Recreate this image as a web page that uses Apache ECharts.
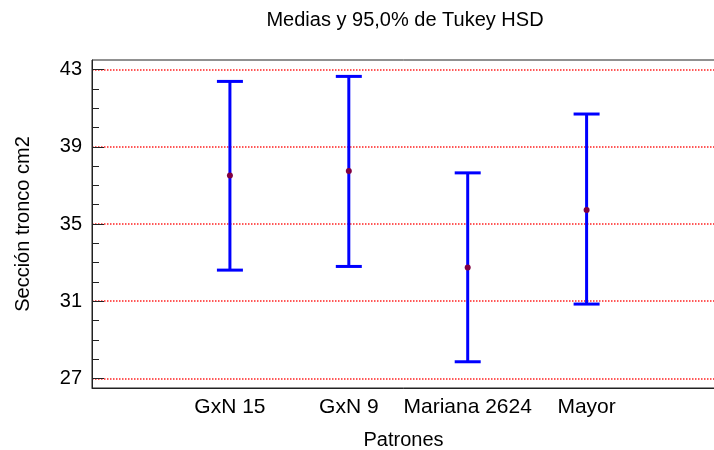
<!DOCTYPE html>
<html>
<head>
<meta charset="utf-8">
<script src="https://cdn.jsdelivr.net/npm/echarts@6/dist/echarts.min.js"></script>
<style>
html,body{margin:0;padding:0;background:#fff;}
#chart{width:714px;height:450px;}
</style>
</head>
<body>
<div id="chart"></div>
<script>
var categories = ['GxN 15', 'GxN 9', 'Mariana 2624', 'Mayor'];
var lowerValues = [32.61, 32.80, 27.86, 30.85];
var meanValues  = [37.51, 37.75, 32.75, 35.73];
var upperValues = [42.39, 42.65, 37.65, 40.70];
var yMajorTicks = [27, 31, 35, 39, 43];
var yMinorTicks = [28, 29, 30, 32, 33, 34, 36, 37, 38, 40, 41, 42];
var categoryPositions = [1, 2, 3, 4];

var FONT = 'Liberation Sans, Arial, sans-serif';
var chart = echarts.init(document.getElementById('chart'), null, {renderer: 'canvas'});

var seriesData = categories.map(function (c, i) {
  return [categoryPositions[i], lowerValues[i], meanValues[i], upperValues[i]];
});

function renderItem(params, api) {
  var x = api.value(0);
  var lo = api.coord([x, api.value(1)]);
  var mid = api.coord([x, api.value(2)]);
  var hi = api.coord([x, api.value(3)]);
  var capHalf = 13;
  var lineStyle = {stroke: '#0000ff', lineWidth: 3};
  return {
    type: 'group',
    children: [
      {type: 'line', shape: {x1: lo[0], y1: lo[1], x2: hi[0], y2: hi[1]}, style: lineStyle},
      {type: 'line', shape: {x1: hi[0] - capHalf, y1: hi[1], x2: hi[0] + capHalf, y2: hi[1]}, style: lineStyle},
      {type: 'line', shape: {x1: lo[0] - capHalf, y1: lo[1], x2: lo[0] + capHalf, y2: lo[1]}, style: lineStyle},
      {type: 'circle', shape: {cx: mid[0], cy: mid[1], r: 3}, style: {fill: '#800040'}}
    ]
  };
}

var option = {
  backgroundColor: '#ffffff',
  animation: false,
  title: {
    text: 'Medias y 95,0% de Tukey HSD',
    left: 400,
    textAlign: 'center',
    top: 5,
    textStyle: {fontFamily: FONT, fontSize: 20, fontWeight: 'normal', color: '#000'}
  },
  grid: {
    left: 92, right: -1, top: 60, height: 328,
    outerBoundsMode: 'none',
    containLabel: false,
    show: true, borderColor: '#222', borderWidth: 1, backgroundColor: 'transparent'
  },
  xAxis: {
    type: 'value',
    min: -0.16, max: 5.08,
    name: 'Patrones',
    nameLocation: 'middle',
    nameGap: 42,
    nameTextStyle: {fontFamily: FONT, fontSize: 20, color: '#000'},
    axisLine: {show: true, onZero: false, lineStyle: {color: '#222', width: 1}},
    axisTick: {show: false},
    splitLine: {show: false},
    axisLabel: {
      customValues: categoryPositions,
      margin: 9,
      fontFamily: FONT, fontSize: 21, color: '#000',
      formatter: function (v) { return categories[Math.round(v) - 1] || ''; }
    }
  },
  yAxis: [
    {
      type: 'value',
      min: 26.5, max: 43.5,
      position: 'left',
      name: 'Sección tronco cm2',
      nameLocation: 'middle',
      nameGap: 59,
      nameTextStyle: {fontFamily: FONT, fontSize: 20, color: '#000'},
      axisLine: {show: true, onZero: false, lineStyle: {color: '#222', width: 1}},
      axisTick: {show: true, inside: true, length: 12, customValues: yMajorTicks, lineStyle: {color: '#222'}},
      axisLabel: {customValues: yMajorTicks, margin: 10, fontFamily: FONT, fontSize: 20, color: '#000'},
      splitLine: {show: true, lineStyle: {color: '#ff2020', type: 'dotted', width: 1.5}}
    },
    {
      type: 'value',
      min: 26.5, max: 43.5,
      position: 'left',
      axisLine: {show: false, onZero: false},
      axisTick: {show: true, inside: true, length: 7, customValues: yMinorTicks, lineStyle: {color: '#222'}},
      axisLabel: {show: false},
      splitLine: {show: false}
    }
  ],
  series: [{
    type: 'custom',
    renderItem: renderItem,
    data: seriesData,
    encode: {x: 0, y: [1, 2, 3]},
    z: 10
  }]
};
chart.setOption(option);
</script>
</body>
</html>
